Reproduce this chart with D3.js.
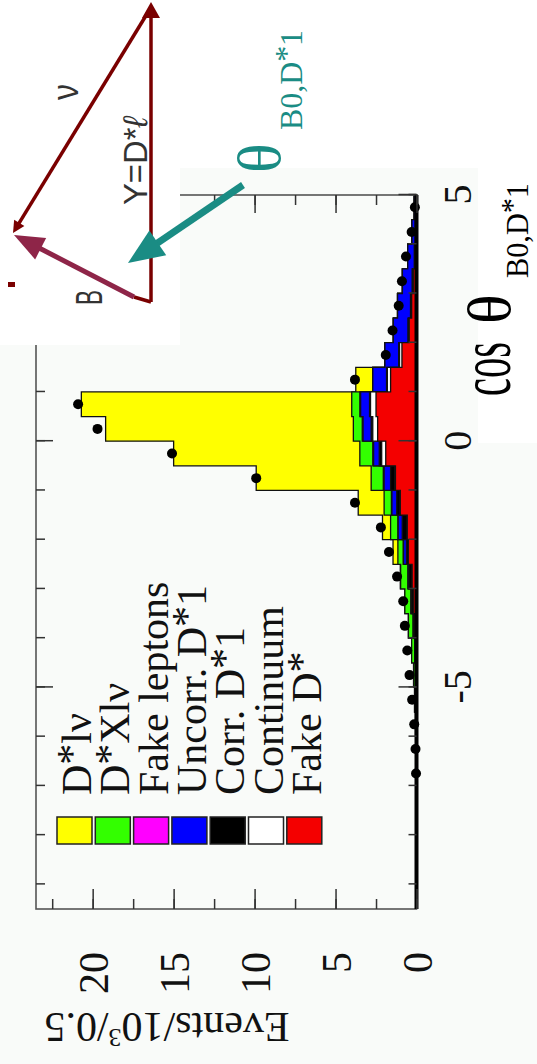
<!DOCTYPE html>
<meta charset="utf-8">
<script src="https://d3js.org/d3.v7.min.js"></script>
<style>
  body { margin: 0; background: #f9fbf9; }
  svg { display: block; }
  text { font-family: "Liberation Serif", "DejaVu Serif", serif; }
</style>
<div id="chart"></div>
<script>

// cos(theta B0,D*l) bin centres, bin width 0.5
var centres = [-9.25, -8.75, -8.25, -7.75, -7.25, -6.75, -6.25, -5.75, -5.25, -4.75,
               -4.25, -3.75, -3.25, -2.75, -2.25, -1.75, -1.25, -0.75, -0.25, 0.25,
               0.75, 1.25, 1.75, 2.25, 2.75, 3.25, 3.75, 4.25, 4.75];

// stacked MC components (Events / 10^3 / 0.5), bottom of stack first
var fakeDstar = [0, 0, 0, 0, 0, 0, 0.01, 0.01, 0.02, 0.03,
                 0.05, 0.1, 0.2, 0.27, 0.5, 0.57, 1.0, 1.3, 1.9, 2.4,
                 2.5, 1.6, 0.9, 0.45, 0.3, 0.2, 0.1, 0.05, 0.03];
var continuum = [0, 0, 0, 0, 0, 0, 0, 0, 0, 0,
                 0, 0, 0, 0, 0, 0.01, 0.02, 0.05, 0.25, 0.3,
                 0.34, 0.2, 0.15, 0.03, 0.02, 0.02, 0.01, 0.01, 0];
var corrDl = [0, 0, 0, 0, 0, 0, 0.01, 0.01, 0.02, 0.03,
              0.05, 0.1, 0.12, 0.2, 0.12, 0.3, 0.2, 0.25, 0.15, 0.1,
              0.06, 0.05, 0.05, 0.05, 0.05, 0.05, 0.03, 0.02, 0.01];
var uncorrDl = [0, 0, 0, 0, 0, 0, 0, 0, 0, 0,
                0, 0, 0.02, 0.05, 0.18, 0.25, 0.3, 0.4, 0.35, 0.5,
                0.55, 0.85, 0.85, 0.9, 0.8, 0.6, 0.4, 0.2, 0.1];
var fakeLeptons = [0, 0, 0, 0, 0, 0, 0, 0, 0, 0,
                   0, 0, 0, 0.01, 0.02, 0.02, 0.03, 0.05, 0.05, 0.05,
                   0.05, 0, 0, 0, 0, 0, 0, 0, 0];
var dstarXlnu = [0, 0, 0, 0, 0, 0.01, 0.02, 0.04, 0.08, 0.12,
                 0.2, 0.3, 0.38, 0.45, 0.33, 0.45, 0.45, 0.75, 0.8, 0.55,
                 0.5, 0, 0, 0, 0, 0, 0, 0, 0];
var dstarlnu = [0, 0, 0, 0, 0, 0, 0, 0, 0, 0,
                0, 0, 0, 0.02, 0.3, 0.5, 1.6, 7.1, 11.5, 15.3,
                16.7, 1.05, 0, 0, 0, 0, 0, 0, 0];

// data points (0 = sits on the axis, not drawn)
var dataPts = [0, 0, 0, 0, 0, 0.03, 0.06, 0.14, 0.27, 0.43,
               0.57, 0.72, 0.82, 1.2, 1.7, 2.2, 3.8, 9.9, 15.1, 19.7,
               20.9, 3.8, 1.9, 1.48, 1.1, 0.9, 0.65, 0.3, 0.1];

var keys = ["fakeDstar", "continuum", "corrDl", "uncorrDl", "fakeLeptons", "dstarXlnu", "dstarlnu"];
var colors = {fakeDstar: "#f40000", continuum: "#ffffff", corrDl: "#000000", uncorrDl: "#0000ff",
              fakeLeptons: "#ff00ff", dstarXlnu: "#33ff00", dstarlnu: "#ffff00"};
var legendLabels = ["D*lν", "D*Xlν", "Fake leptons", "Uncorr. D*1", "Corr. D*1", "Continuum", "Fake D*"];
var legendKeys = ["dstarlnu", "dstarXlnu", "fakeLeptons", "uncorrDl", "corrDl", "continuum", "fakeDstar"];

var cosTicks = [-9, -8, -7, -6, -5, -4, -3, -2, -1, 0, 1, 2, 3, 4, 5];
var cosMajor = [-5, 0, 5];
var evTicks = [0, 2.5, 5, 7.5, 10, 12.5, 15, 17.5, 20, 22.5];
var evMajor = [0, 5, 10, 15, 20];

var series = {fakeDstar: fakeDstar, continuum: continuum, corrDl: corrDl, uncorrDl: uncorrDl,
              fakeLeptons: fakeLeptons, dstarXlnu: dstarXlnu, dstarlnu: dstarlnu};
var rows = centres.map(function (c, i) {
    var r = {c: c, data: dataPts[i]};
    keys.forEach(function (k) { r[k] = series[k][i]; });
    return r;
});

var W = 537, H = 1064;
var svg = d3.select("#chart").append("svg").attr("width", W).attr("height", H);

// the scanned plot is turned 90 deg counter-clockwise
var pw = 714, ph = 380.5;
var g = svg.append("g").attr("transform", "translate(36,909) rotate(-90)");

var x = d3.scaleLinear().domain([-9.5, 5]).range([0, pw]);
var y = d3.scaleLinear().domain([0, 23.5]).range([ph, 0]);

var stacked = d3.stack().keys(keys)(rows);

var area = d3.area()
    .x(function (d) { return x(d.x); })
    .y0(y(0))
    .y1(function (d) { return y(d.top); });

// draw cumulative areas from the top of the stack down
stacked.slice().reverse().forEach(function (s) {
    var pts = [];
    s.forEach(function (d) {
        pts.push({x: d.data.c - 0.25, top: d[1]});
        pts.push({x: d.data.c + 0.25, top: d[1]});
    });
    g.append("path")
        .datum(pts)
        .attr("d", area)
        .attr("fill", colors[s.key])
        .attr("stroke", "#111")
        .attr("stroke-width", 1.3);
});

// frame
g.append("rect")
    .attr("width", pw).attr("height", ph)
    .attr("fill", "none").attr("stroke", "#555").attr("stroke-width", 1.6);
g.append("line")
    .attr("x1", 0).attr("x2", pw).attr("y1", ph).attr("y2", ph)
    .attr("stroke", "#000").attr("stroke-width", 4);

// data points
g.selectAll("circle.pt")
    .data(rows.filter(function (d) { return d.data > 0; }))
    .enter().append("circle")
    .attr("class", "pt")
    .attr("cx", function (d) { return x(d.c); })
    .attr("cy", function (d) { return y(d.data); })
    .attr("r", 5)
    .attr("fill", "#000");

function ticks(axis, tr) {
    var a = g.append("g").attr("transform", tr).call(axis);
    a.select(".domain").remove();
    a.selectAll("line").attr("stroke", "#333").attr("stroke-width", 1.5);
    return a;
}

// cos axis (bottom = events 0)
ticks(d3.axisBottom(x).tickValues(cosTicks).tickSize(-8).tickFormat(""), "translate(0," + ph + ")");
var cb = ticks(d3.axisBottom(x).tickValues(cosMajor).tickSize(-18).tickFormat(function (d) { return String(d); }),
               "translate(0," + ph + ")");
cb.selectAll("text").attr("y", 54).attr("dy", null)
    .attr("font-size", 40).attr("fill", "#111")
    .style("font-family", "Liberation Serif");
// cos axis top
ticks(d3.axisTop(x).tickValues(cosTicks).tickSize(-9).tickFormat(""), "translate(0,0)");
ticks(d3.axisTop(x).tickValues(cosMajor).tickSize(-17).tickFormat(""), "translate(0,0)");

// events axis (left, at cos = -9.5)
ticks(d3.axisLeft(y).tickValues(evTicks).tickSize(-10).tickFormat(""), "translate(0,0)");
var el = ticks(d3.axisLeft(y).tickValues(evMajor).tickSize(-20).tickFormat(d3.format("d")), "translate(0,0)");
el.selectAll("text").attr("x", -43).attr("dy", "0.35em")
    .attr("font-size", 42).attr("fill", "#111")
    .style("font-family", "Liberation Serif");
ticks(d3.axisRight(y).tickValues(evTicks).tickSize(-10).tickFormat(""), "translate(" + pw + ",0)");
ticks(d3.axisRight(y).tickValues(evMajor).tickSize(-18).tickFormat(""), "translate(" + pw + ",0)");

// y title
var yt = g.append("text")
    .attr("transform", "translate(-104,131) rotate(-90)")
    .attr("text-anchor", "middle")
    .attr("font-size", 42).attr("fill", "#111");
yt.append("tspan").text("Events/10");
yt.append("tspan").text("3").attr("font-size", 26).attr("dy", "-0.6em");
yt.append("tspan").text("/0.5").attr("dy", "0.37em");

// legend
var leg = g.append("g");
legendLabels.forEach(function (lab, i) {
    var ry = 21 + i * 38.3;
    leg.append("rect")
        .attr("x", 65).attr("y", ry).attr("width", 27).attr("height", 35)
        .attr("fill", colors[legendKeys[i]])
        .attr("stroke", "#222").attr("stroke-width", 1.5);
    var t = leg.append("text")
        .attr("x", 114).attr("y", ry + 34)
        .attr("font-size", 42).attr("fill", "#111");
    var parts = lab.split("*");
    t.append("tspan").text(parts[0]);
    if (parts.length > 1) {
        t.append("tspan").text("*").attr("dy", "-0.12em");
        if (parts[1]) t.append("tspan").text(parts[1]).attr("dy", "0.12em");
    }
});

// ---- overlay sketch (unrotated page coords) ----
svg.append("rect").attr("x", 0).attr("y", 0).attr("width", W).attr("height", 168).attr("fill", "#fff");
svg.append("rect").attr("x", 0).attr("y", 0).attr("width", 180).attr("height", 345).attr("fill", "#fff");
svg.append("rect").attr("x", 478).attr("y", 168).attr("width", 59).attr("height", 275).attr("fill", "#fff");

function arrowHead(tail, tip, len, hw) {
    var dx = tip[0] - tail[0], dy = tip[1] - tail[1];
    var L = Math.sqrt(dx * dx + dy * dy);
    var ux = dx / L, uy = dy / L;
    var bx = tip[0] - ux * len, by = tip[1] - uy * len;
    return [tip, [bx - uy * hw, by + ux * hw], [bx + uy * hw, by - ux * hw]];
}
var line = d3.line();
function arrow(tail, tip, color, w, len, hw) {
    var dx = tip[0] - tail[0], dy = tip[1] - tail[1];
    var L = Math.sqrt(dx * dx + dy * dy);
    var end = [tip[0] - dx / L * len * 0.8, tip[1] - dy / L * len * 0.8];
    svg.append("path").attr("d", line([tail, end]))
        .attr("stroke", color).attr("stroke-width", w).attr("fill", "none");
    svg.append("path").attr("d", line(arrowHead(tail, tip, len, hw)) + "Z")
        .attr("fill", color);
}

var darkRed = "#7a0000", plum = "#8e2548", teal = "#1a8c84";
arrow([151, 302], [151, 2], darkRed, 3.5, 16, 9);
arrow([150, 9], [13, 233], darkRed, 3.5, 12, 6);
svg.append("path").attr("d", line([[134, 297], [151, 302]]))
    .attr("stroke", darkRed).attr("stroke-width", 3.5).attr("fill", "none");
arrow([134, 297], [14, 235], plum, 5, 30, 12);
svg.append("rect").attr("x", 8).attr("y", 282).attr("width", 7).attr("height", 5).attr("fill", darkRed);
arrow([243, 185], [128, 263], teal, 7, 36, 15);

function rotText(px, py, size, fill, family, len) {
    var t = svg.append("text")
        .attr("transform", "translate(" + px + "," + py + ") rotate(-90)")
        .attr("font-size", size).attr("fill", fill)
        .style("font-family", family);
    if (len) t.attr("textLength", len).attr("lengthAdjust", "spacingAndGlyphs");
    return t;
}
rotText(78, 100, 36, "#333", "Liberation Sans", 16).text("ν");
var yd = rotText(147, 205, 34, "#333", "Liberation Sans", 88);
yd.append("tspan").text("Y=D*");
yd.append("tspan").text("ℓ").attr("font-style", "italic");
rotText(102, 305, 36, "#333", "Liberation Sans", 15).text("B");

// theta labels
rotText(280, 173, 62, teal, "Liberation Serif").text("θ");
var ts = rotText(302, 130, 32, teal, "Liberation Serif", 100);
ts.append("tspan").text("B0,D");
ts.append("tspan").text("*").attr("dy", "-0.15em");
ts.append("tspan").text("1").attr("dy", "0.15em");

rotText(510, 396, 74, "#000", "Liberation Serif", 54).text("cos");
rotText(510, 324, 62, "#000", "Liberation Serif").text("θ");
var cs = rotText(528, 278, 32, "#000", "Liberation Serif", 95);
cs.append("tspan").text("B0,D");
cs.append("tspan").text("*").attr("dy", "-0.15em");
cs.append("tspan").text("1").attr("dy", "0.15em");

</script>
